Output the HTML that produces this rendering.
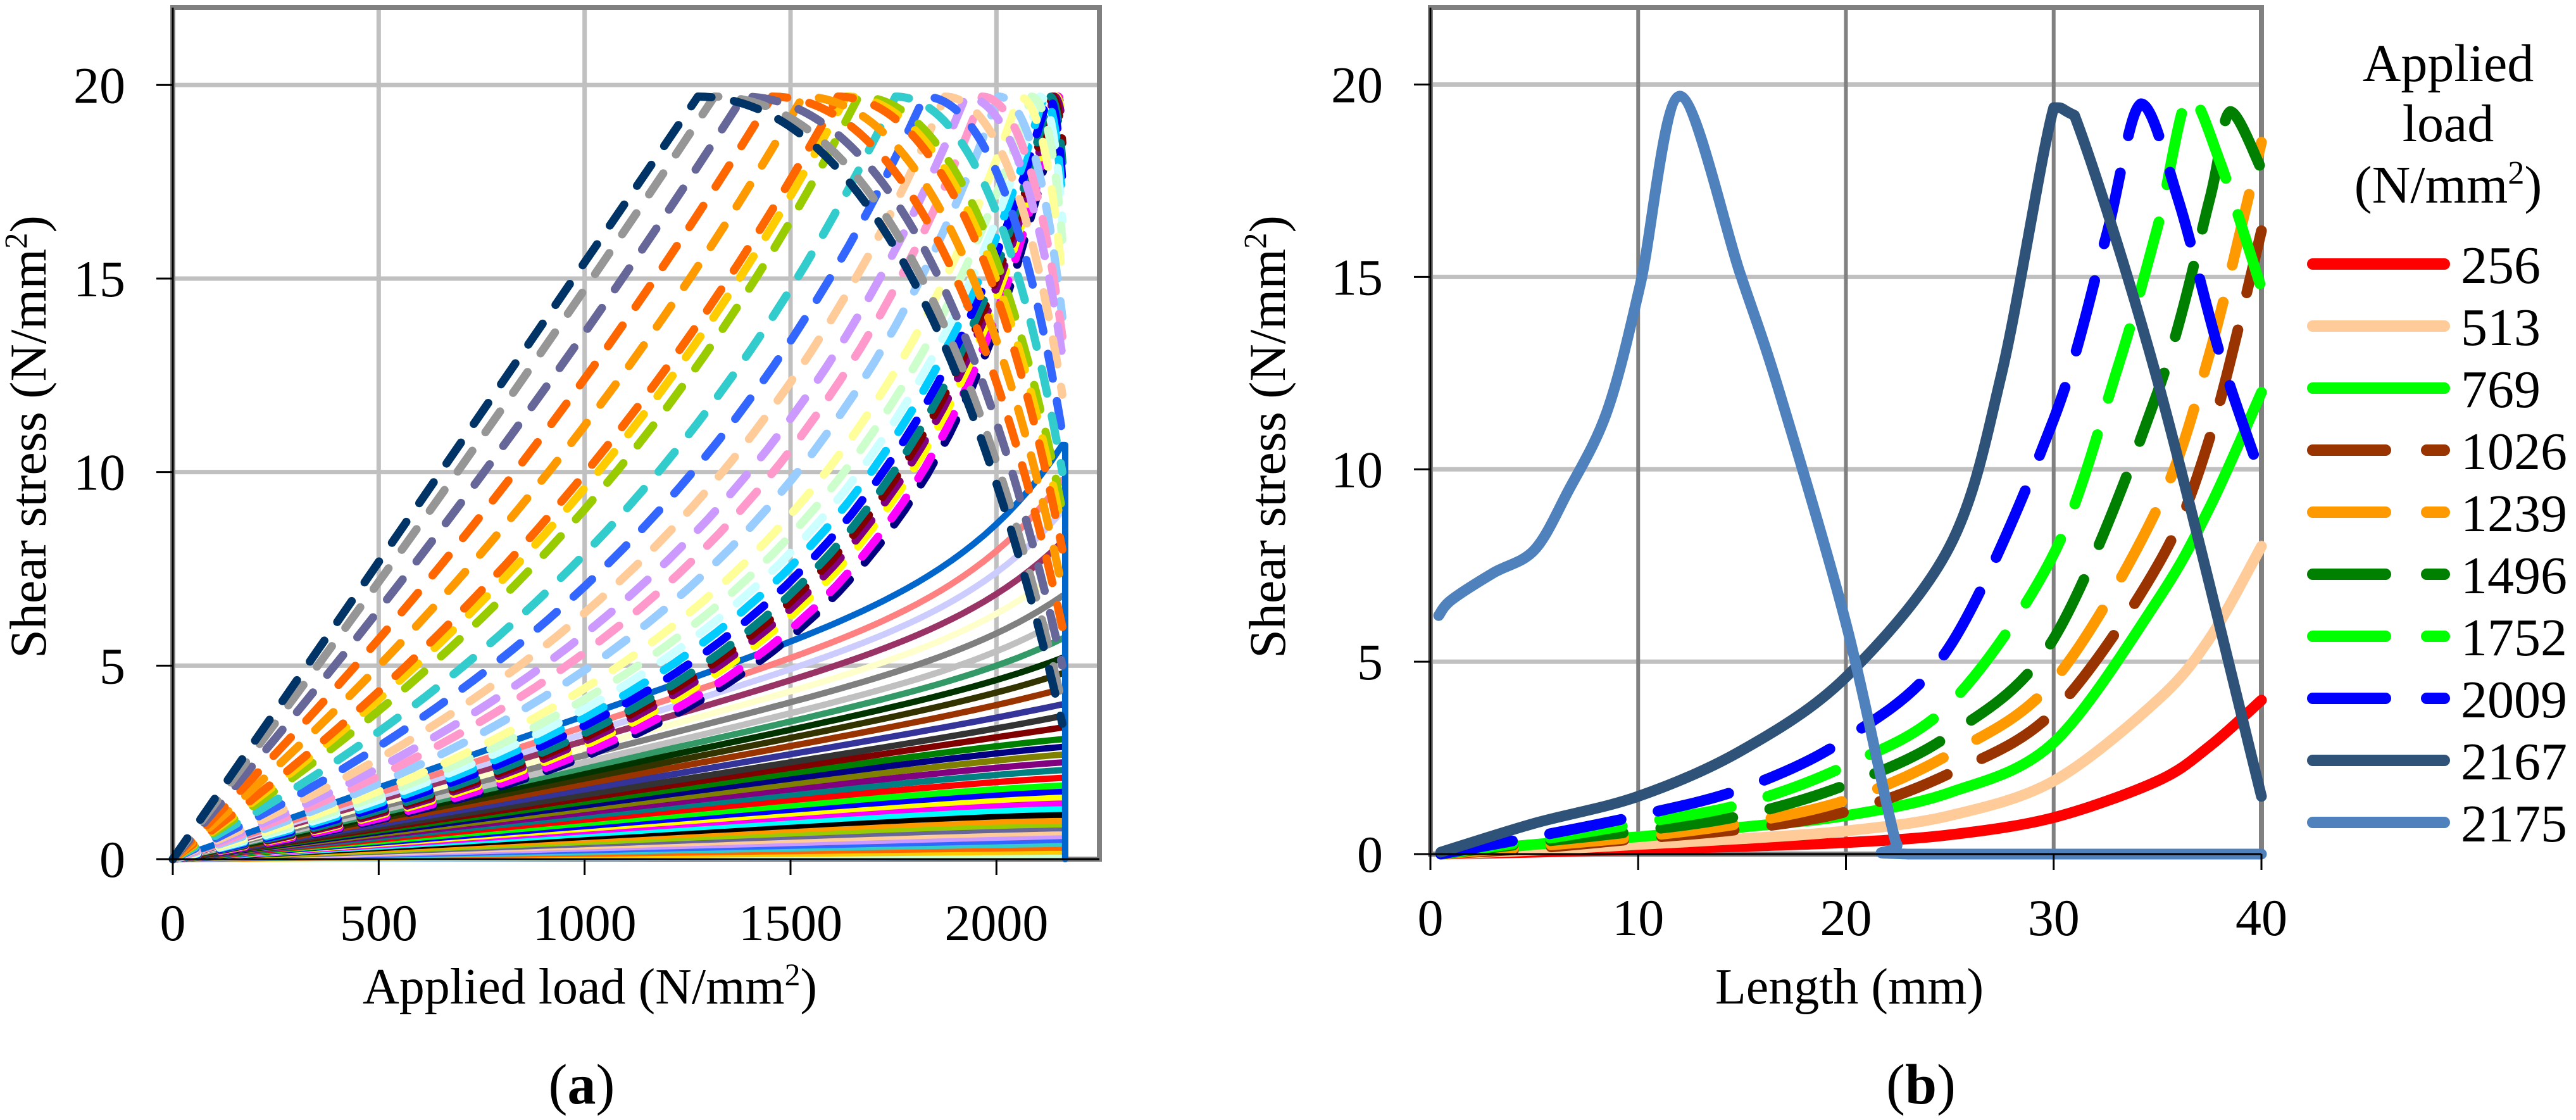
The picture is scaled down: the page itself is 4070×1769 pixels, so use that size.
<!DOCTYPE html>
<html><head><meta charset="utf-8"><style>
html,body{margin:0;padding:0;background:#fff}
svg{display:block}
text{font-family:"Liberation Serif",serif;fill:#000}
</style></head><body>
<svg id="fig" width="4070" height="1769" viewBox="0 0 4070 1769" xmlns="http://www.w3.org/2000/svg" font-family="Liberation Serif, serif">
<g id="chartA"></g>
<g id="chartB"></g>
</svg>
<script>
// ---------- Chart (a) data ----------
const aXTicks = [0, 500, 1000, 1500, 2000];
const aYTicks = [0, 5, 10, 15, 20];
const aPeakStress = 19.7;
const aFailLoad = 2167;
const dashPeakLoad = [1275,1315,1385,1455,1530,1615,1635,1665,1755,1825,1875,1925,1965,2005,2055,2085,2105,2115,2125,2130,2135,2140,2145,2150,2155];
const dashHalfStress = [9.8,9.5,9.1,8.6,8.1,7.6,7.4,7.1,6.6,6.2,5.8,5.5,5.2,4.9,4.6,4.4,4.2,4.0,3.8,3.6,3.5,3.4,3.3,3.1,3.0];
const dashEndStress = [3.5,4,5,6,7,8,8.5,9,10,11,12,13,13.5,14,15,16,16.5,17,17.5,18,18.5,19,19,19.2,19.4];
const dashColors = ['#003366','#969696','#666699','#FF6600','#FF9900','#FF6600','#FFCC00','#99CC00','#33CCCC','#3366FF','#FFCC99','#CC99FF','#FF99CC','#99CCFF','#FFFF99','#CCFFCC','#CCFFFF','#00CCFF','#0000FF','#008080','#800000','#800080','#FFFF00','#FF00FF','#000080'];
const solidMidStress = [4.0,3.7,3.5,3.3,3.1,2.9,2.7,2.55,2.4,2.25,2.1,1.95,1.8,1.7,1.6,1.5,1.4,1.3,1.2,1.1,1.0,0.92,0.85,0.78,0.7,0.62,0.55,0.48,0.42,0.36,0.3,0.25,0.2,0.15,0.1,0.06,0.03];
const solidEndStress = [10.7,9.8,9.0,8.2,7.5,6.8,6.2,5.7,5.2,4.8,4.4,4.0,3.7,3.4,3.1,2.9,2.7,2.5,2.3,2.1,1.9,1.75,1.6,1.45,1.3,1.15,1.0,0.9,0.8,0.7,0.6,0.5,0.4,0.3,0.2,0.12,0.06];
const solidColors = ['#0066CC','#FF8080','#CCCCFF','#993366','#FFFFCC','#808080','#C0C0C0','#339966','#003300','#333300','#993300','#333399','#333333','#800000','#008000','#000080','#808000','#800080','#008080','#FF0000','#00FF00','#0000FF','#FFFF00','#FF00FF','#00FFFF','#000000','#FF9900','#99CC00','#666699','#FFCC99','#CC99FF','#3366FF','#33CCCC','#FF6600','#FFCC00','#CCFFCC','#99CCFF'];

// ---------- Chart (b) data ----------
const bXTicks = [0, 10, 20, 30, 40];
const bYTicks = [0, 5, 10, 15, 20];
const bLoads = ['256','513','769','1026','1239','1496','1752','2009','2167','2175'];
const bColors = ['#FF0000','#FFCC99','#00FF00','#993300','#FF9900','#008000','#00FF00','#0000FF','#2F5279','#4F81BD'];
const bDashed = [false,false,false,true,true,true,true,true,false,false];
const s256X = [0.5,5,10,15,20,25,30,35,37.5,40];
const s256Y = [0,0.05,0.12,0.2,0.3,0.5,0.95,1.9,2.8,4.0];
const s513X = [0.5,5,10,15,20,25,30,35,37.5,40];
const s513Y = [0,0.1,0.25,0.4,0.6,1.0,1.9,4.0,5.6,8.0];
const s769X = [0.5,5,10,15,20,25,30,35,37.5,40];
const s769Y = [0,0.25,0.45,0.7,1.0,1.6,2.9,6.6,9.0,12.0];
const s1026X = [0.5,5,10,15,20,25,30,35,37.5,40];
const s1026Y = [0,0.15,0.4,0.65,1.1,2.1,3.7,7.5,10.8,16.2];
const s1239X = [0.5,5,10,15,20,25,30,35,37.5,40];
const s1239Y = [0,0.2,0.45,0.8,1.4,2.6,4.5,9.0,13.0,18.5];
const s1496X = [0.5,5,10,15,20,25,30,35,37.5,38.5,40];
const s1496Y = [0,0.3,0.6,1.0,1.8,3.1,5.6,12.0,17.0,19.3,17.8];
const s1752X = [0.5,5,10,15,20,25,30,33,35,36.5,38,40];
const s1752Y = [0,0.35,0.8,1.3,2.3,3.9,7.8,12.5,16.3,19.7,18.0,14.7];
const s2009X = [0.5,5,10,15,20,25,30,32.5,34.2,36,38,40];
const s2009Y = [0,0.45,1.0,1.7,3.0,5.4,11.3,16.0,19.5,17.0,13.0,9.8];
const s2167X = [0.5,5,10,15,20,25,27.5,30,31,35,40];
const s2167Y = [0.05,0.8,1.5,2.7,4.6,8.0,12.5,19.4,19.2,12.3,1.5];
const s2175X = [0.4,1,3,5,6.6,8.5,10.1,12,14.9,16.8,20,22.4,23,40];
const s2175Y = [6.2,6.6,7.3,7.9,9.4,11.5,14.8,19.7,15.1,12.0,6.0,0.3,0,0];
const bSeriesX = [s256X,s513X,s769X,s1026X,s1239X,s1496X,s1752X,s2009X,s2167X,s2175X];
const bSeriesY = [s256Y,s513Y,s769Y,s1026Y,s1239Y,s1496Y,s1752Y,s2009Y,s2167Y,s2175Y];

const NS = 'http://www.w3.org/2000/svg';
function mk(parent, tag, attrs, txt){
  const e = document.createElementNS(NS, tag);
  for (const k in attrs) e.setAttribute(k, attrs[k]);
  if (txt !== undefined) e.textContent = txt;
  parent.appendChild(e);
  return e;
}
function titleWithSup(parent, x, y, base, fs, rot){
  const t = mk(parent, 'text', {x:x, y:y, 'font-size':fs, 'text-anchor':'middle'});
  if (rot) t.setAttribute('transform', 'rotate(-90 '+x+' '+y+')');
  mk(t, 'tspan', {}, base + '(N/mm');
  mk(t, 'tspan', {'font-size':fs*0.62, dy:-fs*0.36}, '2');
  mk(t, 'tspan', {dy:fs*0.36}, ')');
  return t;
}
// Catmull-Rom smoothing with control points clamped to each segment's y-range (no overshoot)
function smoothPath(pts){
  let d='M'+pts[0][0].toFixed(1)+','+pts[0][1].toFixed(1);
  const cl=(v,a,b)=>Math.max(Math.min(a,b),Math.min(Math.max(a,b),v));
  for(let i=0;i<pts.length-1;i++){
    const p0=pts[Math.max(0,i-1)], p1=pts[i], p2=pts[i+1], p3=pts[Math.min(pts.length-1,i+2)];
    const t=0.16;
    const c1=[p1[0]+(p2[0]-p0[0])*t, cl(p1[1]+(p2[1]-p0[1])*t,p1[1],p2[1])];
    const c2=[p2[0]-(p3[0]-p1[0])*t, cl(p2[1]-(p3[1]-p1[1])*t,p1[1],p2[1])];
    d+=' C'+c1[0].toFixed(1)+','+c1[1].toFixed(1)+' '+c2[0].toFixed(1)+','+c2[1].toFixed(1)+' '+p2[0].toFixed(1)+','+p2[1].toFixed(1);
  }
  return d;
}

// ---------- Chart (a) ----------
(function(){
  const g = document.getElementById('chartA');
  const L=273, R=1737, T=12, B=1357;
  const xMax=2250, yMax=22;
  const X = v => L + v*(R-L)/xMax;
  const Y = v => B - v*(B-T)/yMax;
  const grid = mk(g,'g',{});
  
  
  aXTicks.forEach(v=>{ if(v>0) mk(grid,'line',{x1:X(v),x2:X(v),y1:T,y2:B,stroke:'#C0C0C0','stroke-width':7}); });
  aYTicks.forEach(v=>{ if(v>0) mk(grid,'line',{x1:L,x2:R,y1:Y(v),y2:Y(v),stroke:'#C0C0C0','stroke-width':7}); });
  mk(g,'rect',{x:L,y:T,width:R-L,height:B-T,fill:'none',stroke:'#808080','stroke-width':8});

  const series = mk(g,'g',{'stroke-linecap':'round','stroke-linejoin':'round',fill:'none'});
  
  
  for (let i=solidMidStress.length-1;i>=0;i--){
    const m=solidMidStress[i], e=solidEndStress[i], xe=2160, n=10;
    const h=Math.pow(0.5,n);
    const r=(e-2*m)/(1-2*h), p=(e-r)/xe;
    let d='M'+X(0)+','+Y(0);
    for(let k=1;k<=80;k++){const x=xe*k/80; const y=p*x+r*Math.pow(x/xe,n); d+=' L'+X(x).toFixed(1)+','+Y(y).toFixed(1);}
    d+=' L'+X(aFailLoad)+','+Y(e)+' L'+X(aFailLoad)+','+Y(0);
    const pth=mk(series,'path',{d:d,stroke:solidColors[i%solidColors.length],'stroke-width':10});
    
    
  }
  for (let i=dashPeakLoad.length-1;i>=0;i--){
    const P=dashPeakLoad[i], h=dashHalfStress[i], e=dashEndStress[i], xe=2160;
    const u=(aPeakStress-2*h)/(aPeakStress-h), a=aPeakStress*(1-u)/P, b=u/P;
    let d='M'+X(0)+','+Y(0);
    for(let k=1;k<=40;k++){const x=P*k/40; d+=' L'+X(x).toFixed(1)+','+Y(a*x/(1-b*x)).toFixed(1);}
    const cx=P+(xe-P)*0.6;
    d+=' Q'+X(cx)+','+Y(aPeakStress)+' '+X(xe)+','+Y(e);
    const p=mk(series,'path',{d:d,stroke:dashColors[i],'stroke-width':13,'stroke-dasharray':'40 36'});
    
    
  }
  mk(g,'line',{x1:L,x2:L,y1:T,y2:B,stroke:'#000','stroke-width':3});
  mk(g,'line',{x1:L,x2:R,y1:B,y2:B,stroke:'#000','stroke-width':3});
  const ticks = mk(g,'g',{});
  
  
  aYTicks.forEach(v=>{
    mk(ticks,'line',{x1:L-26,x2:L,y1:Y(v),y2:Y(v),stroke:'#000','stroke-width':3});
    const t=mk(ticks,'text',{x:198,y:Y(v)+28,'font-size':82,'text-anchor':'end'},String(v));
    
    
  });
  aXTicks.forEach(v=>{
    mk(ticks,'line',{x1:X(v),x2:X(v),y1:B,y2:B+25,stroke:'#000','stroke-width':3});
    const t=mk(ticks,'text',{x:X(v),y:1485,'font-size':82,'text-anchor':'middle'},String(v));
    
    
  });
  const xt=titleWithSup(g,932,1585,'Applied load ',80,false);
  
  
  const yt=titleWithSup(g,72,690,'Shear stress ',82,true);
  
  
  const cap=mk(g,'text',{x:919,y:1743,'font-size':90,'text-anchor':'middle'});
  
  
  mk(cap,'tspan',{},'(');
  mk(cap,'tspan',{'font-weight':'bold'},'a');
  mk(cap,'tspan',{},')');
})();

// ---------- Chart (b) ----------
(function(){
  const g = document.getElementById('chartB');
  const L=2260, R=3573, T=12, B=1349;
  const xMax=40, yMax=22;
  const X = v => L + v*(R-L)/xMax;
  const Y = v => B - v*(B-T)/yMax;
  const grid = mk(g,'g',{});
  
  
  bYTicks.forEach(v=>{ if(v>0) mk(grid,'line',{x1:L,x2:R,y1:Y(v),y2:Y(v),stroke:'#C0C0C0','stroke-width':7}); });
  bXTicks.forEach(v=>{ if(v>0 && v<xMax) mk(grid,'line',{x1:X(v),x2:X(v),y1:T,y2:B,stroke:'#808080','stroke-width':6}); });
  mk(g,'rect',{x:L,y:T,width:R-L,height:B-T,fill:'none',stroke:'#808080','stroke-width':8});

  const series = mk(g,'g',{'stroke-linecap':'round','stroke-linejoin':'round',fill:'none'});
  
  
  for(let i=0;i<bLoads.length;i++){
    const xs=bSeriesX[i], ys=bSeriesY[i];
    const pts=xs.map((x,k)=>[X(x),Y(ys[k])]);
    const attrs={d:smoothPath(pts),stroke:bColors[i],'stroke-width':17};
    if(bDashed[i]) attrs['stroke-dasharray']='115 60';
    const p=mk(series,'path',attrs);
    
    
  }
  mk(g,'line',{x1:L,x2:L,y1:T,y2:B,stroke:'#000','stroke-width':3});
  mk(g,'line',{x1:L,x2:R,y1:B,y2:B,stroke:'#000','stroke-width':3});
  const ticks = mk(g,'g',{});
  
  
  bYTicks.forEach(v=>{
    mk(ticks,'line',{x1:L-26,x2:L,y1:Y(v),y2:Y(v),stroke:'#000','stroke-width':3});
    const t=mk(ticks,'text',{x:2185,y:Y(v)+28,'font-size':82,'text-anchor':'end'},String(v));
    
    
  });
  bXTicks.forEach(v=>{
    mk(ticks,'line',{x1:X(v),x2:X(v),y1:B,y2:B+25,stroke:'#000','stroke-width':3});
    const t=mk(ticks,'text',{x:X(v),y:1477,'font-size':82,'text-anchor':'middle'},String(v));
    
    
  });
  const xt=mk(g,'text',{x:2922,y:1585,'font-size':80,'text-anchor':'middle'},'Length (mm)');
  
  
  const yt=titleWithSup(g,2030,690,'Shear stress ',82,true);
  
  
  const cap=mk(g,'text',{x:3035,y:1743,'font-size':90,'text-anchor':'middle'});
  
  
  mk(cap,'tspan',{},'(');
  mk(cap,'tspan',{'font-weight':'bold'},'b');
  mk(cap,'tspan',{},')');

  const lg = mk(g,'g',{});
  
  
  const lt1=mk(lg,'text',{x:3868,y:128,'font-size':84,'text-anchor':'middle'},'Applied');
  
  
  mk(lg,'text',{x:3868,y:223,'font-size':84,'text-anchor':'middle'},'load');
  const lt3=titleWithSup(lg,3868,320,'',84,false);
  
  
  for(let i=0;i<bLoads.length;i++){
    const y=417+i*98;
    const e=mk(lg,'g',{});
    
    
    const attrs={x1:3654,x2:3862,y1:y,y2:y,stroke:bColors[i],'stroke-width':18,'stroke-linecap':'round'};
    if(bDashed[i]) attrs['stroke-dasharray']='115 65';
    mk(e,'line',attrs);
    mk(e,'text',{x:3888,y:y+30,'font-size':84},bLoads[i]);
  }
})();
</script>
</body></html>
